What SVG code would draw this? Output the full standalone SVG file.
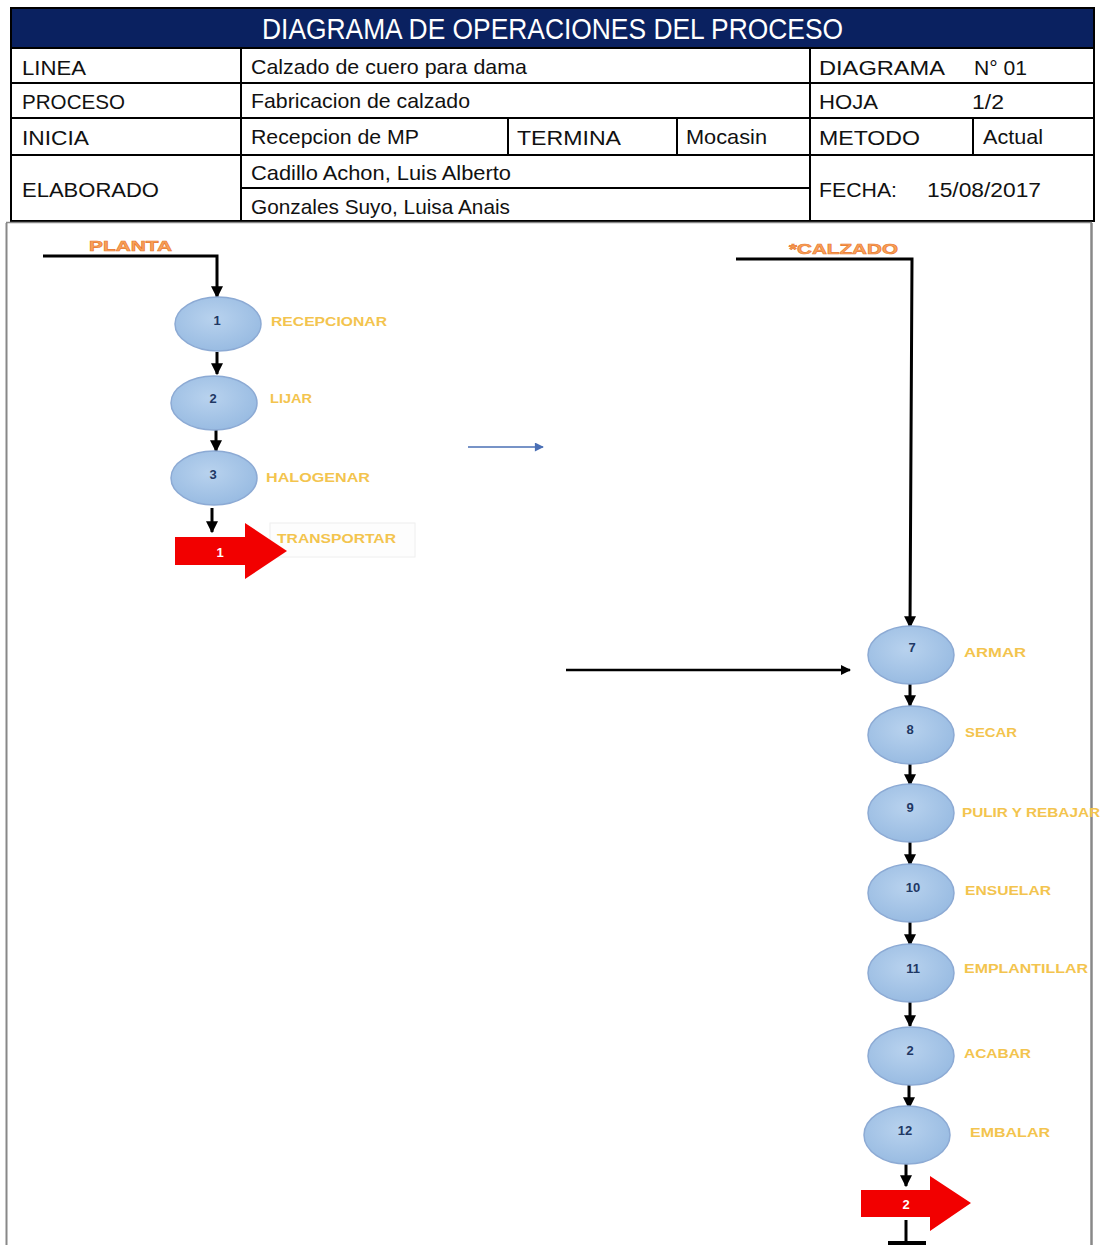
<svg xmlns="http://www.w3.org/2000/svg" width="1103" height="1245" viewBox="0 0 1103 1245">
<defs>
<marker id="ah" viewBox="0 0 10 10" refX="9" refY="5" markerWidth="4" markerHeight="4" orient="auto" markerUnits="strokeWidth"><path d="M0,0 L10,5 L0,10 z" fill="#000"/></marker>
<marker id="ahb" viewBox="0 0 10 10" refX="9" refY="5" markerWidth="8" markerHeight="6" orient="auto" markerUnits="strokeWidth"><path d="M0,0 L10,5 L0,10 z" fill="#4a6fb5"/></marker>
<radialGradient id="eg" cx="0.45" cy="0.4" r="0.7"><stop offset="0" stop-color="#b8d2ee"/><stop offset="1" stop-color="#94b8e0"/></radialGradient>
</defs>
<style>
.t{font-family:"Liberation Sans",Arial,sans-serif;font-size:21px;fill:#111}
.ln{stroke:#000;stroke-width:2;fill:none}
.el{fill:url(#eg);stroke:#8caad4;stroke-width:1.5}
.num{font-family:"Liberation Sans",Arial,sans-serif;font-size:13px;font-weight:bold;fill:#1f3864;text-anchor:middle}
.lab{font-family:"Liberation Sans",Arial,sans-serif;font-size:13px;font-weight:bold;fill:#f3c44e}
.cn{stroke:#000;stroke-width:3;fill:none}
.hd{font-family:"Liberation Sans",Arial,sans-serif;font-size:15px;font-weight:bold;fill:#f9a25a;stroke:#e8782e;stroke-width:0.6}
</style>
<rect width="1103" height="1245" fill="#fff"/>
<g id="table">
<rect x="11" y="8" width="1083" height="40" fill="#0a2160"/>
<text x="262" y="39" font-family="Liberation Sans,Arial,sans-serif" font-size="29" fill="#fff" textLength="581" lengthAdjust="spacingAndGlyphs">DIAGRAMA DE OPERACIONES DEL PROCESO</text>
<rect x="11" y="8" width="1083" height="213" class="ln"/>
<line x1="11" y1="48" x2="1094" y2="48" class="ln"/>
<line x1="11" y1="83" x2="1094" y2="83" class="ln"/>
<line x1="11" y1="118" x2="1094" y2="118" class="ln"/>
<line x1="11" y1="155" x2="1094" y2="155" class="ln"/>
<line x1="241" y1="188" x2="810" y2="188" class="ln"/>
<line x1="241" y1="48" x2="241" y2="221" class="ln"/>
<line x1="810" y1="48" x2="810" y2="221" class="ln"/>
<line x1="508" y1="118" x2="508" y2="155" class="ln"/>
<line x1="677" y1="118" x2="677" y2="155" class="ln"/>
<line x1="973" y1="118" x2="973" y2="155" class="ln"/>
<text class="t" x="22" y="75" textLength="64" lengthAdjust="spacingAndGlyphs">LINEA</text>
<text class="t" x="251" y="74" textLength="276" lengthAdjust="spacingAndGlyphs">Calzado de cuero para dama</text>
<text class="t" x="819" y="75" textLength="126" lengthAdjust="spacingAndGlyphs">DIAGRAMA</text>
<text class="t" x="974" y="75" textLength="53" lengthAdjust="spacingAndGlyphs">N° 01</text>
<text class="t" x="22" y="109" textLength="103" lengthAdjust="spacingAndGlyphs">PROCESO</text>
<text class="t" x="251" y="108" textLength="219" lengthAdjust="spacingAndGlyphs">Fabricacion de calzado</text>
<text class="t" x="819" y="109" textLength="59" lengthAdjust="spacingAndGlyphs">HOJA</text>
<text class="t" x="972" y="109" textLength="32" lengthAdjust="spacingAndGlyphs">1/2</text>
<text class="t" x="22" y="145" textLength="67" lengthAdjust="spacingAndGlyphs">INICIA</text>
<text class="t" x="251" y="144" textLength="168" lengthAdjust="spacingAndGlyphs">Recepcion de MP</text>
<text class="t" x="517" y="145" textLength="104" lengthAdjust="spacingAndGlyphs">TERMINA</text>
<text class="t" x="686" y="144" textLength="81" lengthAdjust="spacingAndGlyphs">Mocasin</text>
<text class="t" x="819" y="145" textLength="101" lengthAdjust="spacingAndGlyphs">METODO</text>
<text class="t" x="983" y="144" textLength="60" lengthAdjust="spacingAndGlyphs">Actual</text>
<text class="t" x="22" y="197" textLength="137" lengthAdjust="spacingAndGlyphs">ELABORADO</text>
<text class="t" x="251" y="180" textLength="260" lengthAdjust="spacingAndGlyphs">Cadillo Achon, Luis Alberto</text>
<text class="t" x="251" y="214" textLength="259" lengthAdjust="spacingAndGlyphs">Gonzales Suyo, Luisa Anais</text>
<text class="t" x="819" y="197" textLength="78" lengthAdjust="spacingAndGlyphs">FECHA:</text>
<text class="t" x="927" y="197" textLength="114" lengthAdjust="spacingAndGlyphs">15/08/2017</text>
</g>
<g id="frame">
<line x1="6.5" y1="223" x2="6.5" y2="1245" stroke="#888" stroke-width="2"/>
<line x1="1091.5" y1="223" x2="1091.5" y2="1245" stroke="#888" stroke-width="2.5"/>
<line x1="6" y1="222.5" x2="1092" y2="222.5" stroke="#888" stroke-width="1.5"/>
</g>
<g id="connectors">
<polyline points="43,256 217,256 217,297" style="stroke:#000;stroke-width:3;fill:none" marker-end="url(#ah)"/>
<line x1="217" y1="352" x2="217" y2="374" class="cn" marker-end="url(#ah)"/>
<line x1="216" y1="430" x2="216" y2="451" class="cn" marker-end="url(#ah)"/>
<line x1="212" y1="508" x2="212" y2="532" class="cn" marker-end="url(#ah)"/>
<line x1="468" y1="447" x2="543" y2="447" stroke="#4a6fb5" stroke-width="1.5" marker-end="url(#ahb)"/>
<polyline points="736,259 912,259 910,627" style="stroke:#000;stroke-width:3;fill:none" marker-end="url(#ah)"/>
<line x1="566" y1="670" x2="850" y2="670" stroke="#000" stroke-width="2.5" marker-end="url(#ah)"/>
<line x1="910" y1="684" x2="910" y2="706" class="cn" marker-end="url(#ah)"/>
<line x1="910" y1="764" x2="910" y2="785" class="cn" marker-end="url(#ah)"/>
<line x1="910" y1="842" x2="910" y2="865" class="cn" marker-end="url(#ah)"/>
<line x1="910" y1="922" x2="910" y2="945" class="cn" marker-end="url(#ah)"/>
<line x1="910" y1="1002" x2="910" y2="1026" class="cn" marker-end="url(#ah)"/>
<line x1="909" y1="1085" x2="909" y2="1108" class="cn" marker-end="url(#ah)"/>
<line x1="906" y1="1164" x2="906" y2="1186" class="cn" marker-end="url(#ah)"/>
<line x1="906" y1="1220" x2="906" y2="1241" class="cn"/>
<line x1="888" y1="1243" x2="926" y2="1243" stroke="#000" stroke-width="4"/>
</g>
<g id="planta"><text class="hd" x="89" y="251" textLength="83" lengthAdjust="spacingAndGlyphs">PLANTA</text></g>
<g id="calzado"><text class="hd" x="789" y="254" textLength="109" lengthAdjust="spacingAndGlyphs">*CALZADO</text></g>
<g id="op1"><ellipse class="el" cx="218" cy="324" rx="43" ry="27"/><text class="num" x="217" y="325">1</text><text class="lab" x="271" y="326" textLength="116" lengthAdjust="spacingAndGlyphs">RECEPCIONAR</text></g>
<g id="op2"><ellipse class="el" cx="214" cy="403" rx="43" ry="27"/><text class="num" x="213" y="403">2</text><text class="lab" x="270" y="403" textLength="42" lengthAdjust="spacingAndGlyphs">LIJAR</text></g>
<g id="op3"><ellipse class="el" cx="214" cy="478" rx="43" ry="27"/><text class="num" x="213" y="479">3</text><text class="lab" x="266" y="482" textLength="104" lengthAdjust="spacingAndGlyphs">HALOGENAR</text></g>
<g id="tr1">
<rect x="270" y="523" width="145" height="34" fill="#fdfdfd" stroke="#eee"/>
<polygon points="175,537 245,537 245,523 287,551 245,579 245,565 175,565" fill="#f20000"/>
<text class="num" x="220" y="557" style="fill:#fff">1</text>
<text class="lab" x="277" y="543" textLength="119" lengthAdjust="spacingAndGlyphs">TRANSPORTAR</text>
</g>
<g id="op7"><ellipse class="el" cx="911" cy="655" rx="43" ry="29"/><text class="num" x="912" y="652">7</text><text class="lab" x="964" y="657" textLength="62" lengthAdjust="spacingAndGlyphs">ARMAR</text></g>
<g id="op8"><ellipse class="el" cx="911" cy="735" rx="43" ry="29"/><text class="num" x="910" y="734">8</text><text class="lab" x="965" y="737" textLength="52" lengthAdjust="spacingAndGlyphs">SECAR</text></g>
<g id="op9"><ellipse class="el" cx="911" cy="813" rx="43" ry="29"/><text class="num" x="910" y="812">9</text><text class="lab" x="962" y="817" textLength="138" lengthAdjust="spacingAndGlyphs">PULIR Y REBAJAR</text></g>
<g id="op10"><ellipse class="el" cx="911" cy="893" rx="43" ry="29"/><text class="num" x="913" y="892">10</text><text class="lab" x="965" y="895" textLength="86" lengthAdjust="spacingAndGlyphs">ENSUELAR</text></g>
<g id="op11"><ellipse class="el" cx="911" cy="973" rx="43" ry="29"/><text class="num" x="913" y="973">11</text><text class="lab" x="964" y="973" textLength="124" lengthAdjust="spacingAndGlyphs">EMPLANTILLAR</text></g>
<g id="op2b"><ellipse class="el" cx="911" cy="1056" rx="43" ry="29"/><text class="num" x="910" y="1055">2</text><text class="lab" x="964" y="1058" textLength="67" lengthAdjust="spacingAndGlyphs">ACABAR</text></g>
<g id="op12"><ellipse class="el" cx="907" cy="1135" rx="43" ry="29"/><text class="num" x="905" y="1135">12</text><text class="lab" x="970" y="1137" textLength="80" lengthAdjust="spacingAndGlyphs">EMBALAR</text></g>
<g id="tr2">
<polygon points="861,1190 930,1190 930,1176 971,1203 930,1231 930,1217 861,1217" fill="#f20000"/>
<text class="num" x="906" y="1209" style="fill:#fff">2</text>
</g>
</svg>
